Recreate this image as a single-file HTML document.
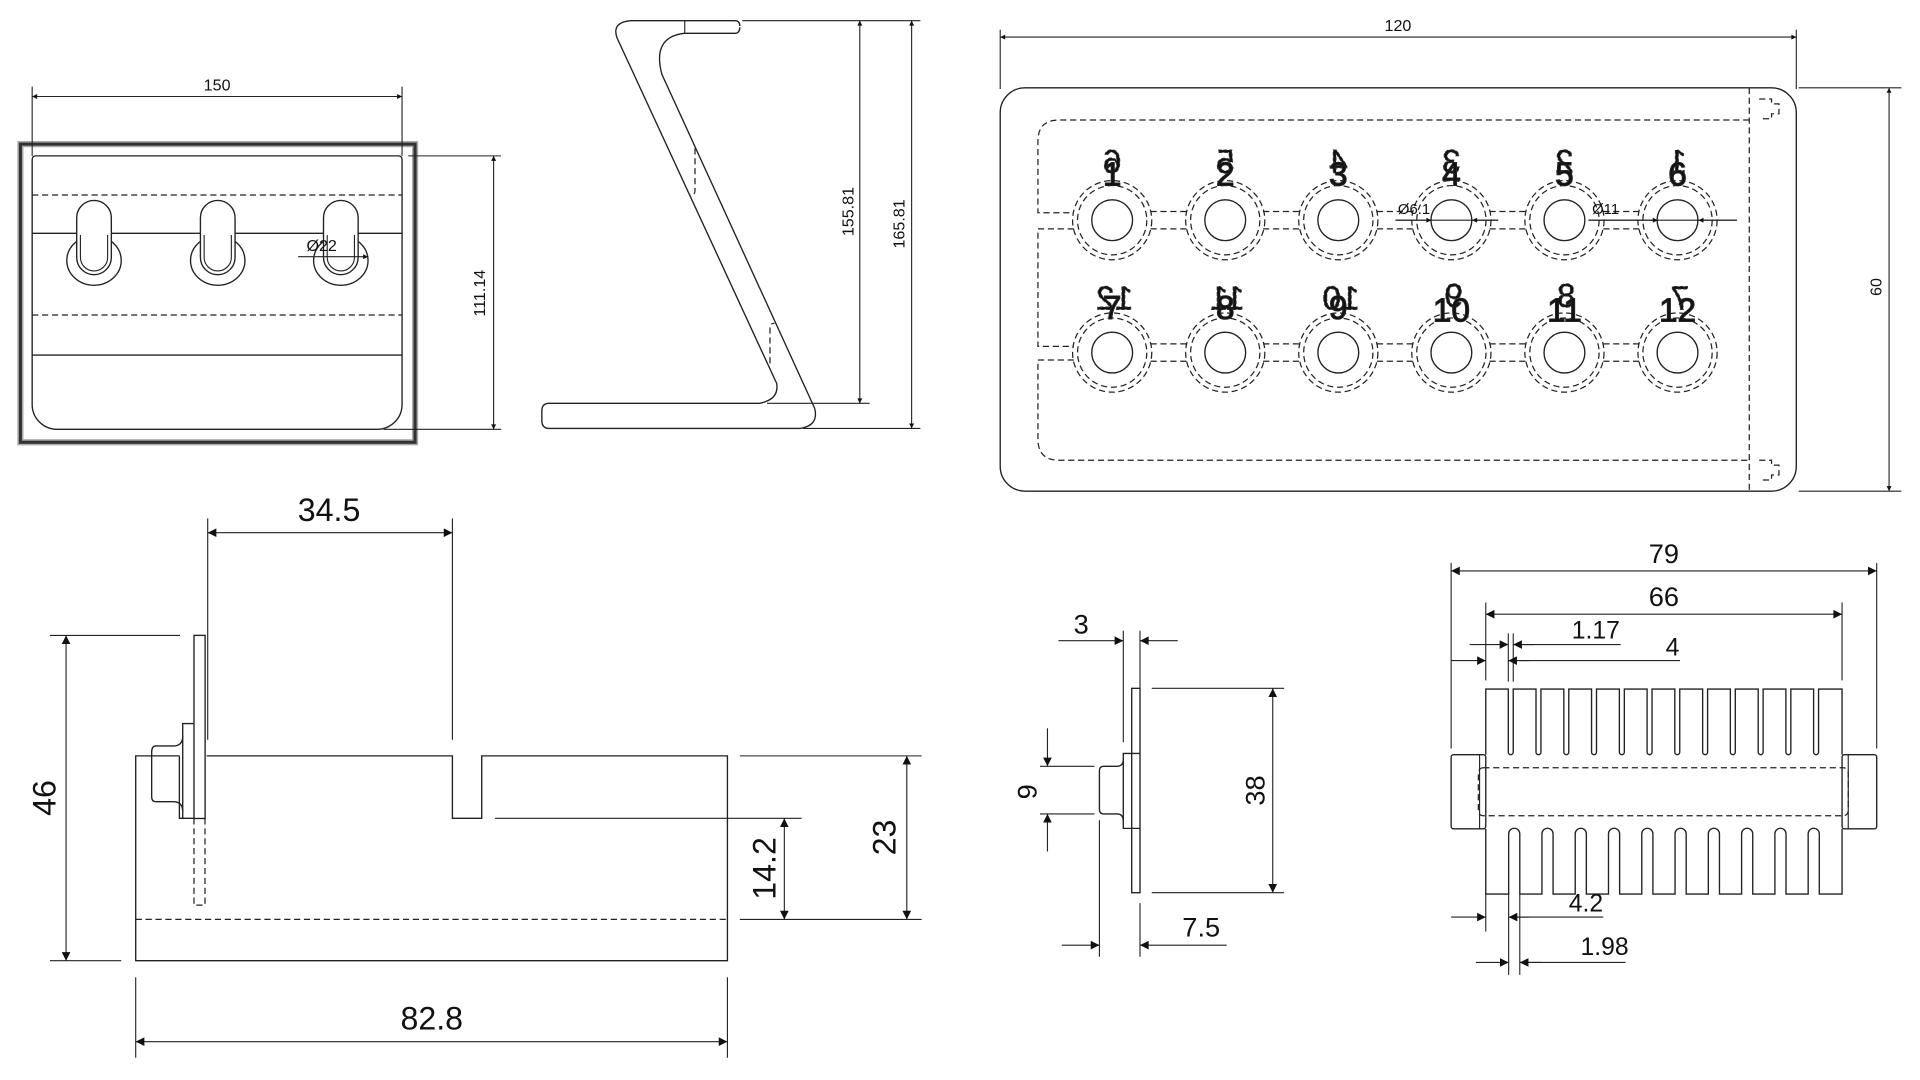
<!DOCTYPE html>
<html><head><meta charset="utf-8"><style>
html,body{margin:0;padding:0;background:#fff;}
svg{display:block;}
text{font-family:"Liberation Sans",sans-serif;fill:#111;}
.l{fill:none;stroke:#222;stroke-width:1.1;}
.d{fill:none;stroke:#222;stroke-width:1;stroke-dasharray:5 3;}
.t{fill:none;stroke:#222;stroke-width:0.9;}
.lab{font-family:"Liberation Sans Narrow","Liberation Sans",sans-serif;font-size:27px;fill:#fff;stroke:#222;stroke-width:0.9;text-anchor:middle;}
.gh{font-family:"Liberation Sans Narrow","Liberation Sans",sans-serif;font-size:27px;fill:none;stroke:#333;stroke-width:0.8;stroke-dasharray:3 1.5;text-anchor:middle;}
</style></head><body>
<svg width="1920" height="1080" viewBox="0 0 1552 873" preserveAspectRatio="none" xmlns="http://www.w3.org/2000/svg">
<defs>
<marker id="A" viewBox="0 0 10 10" refX="10" refY="5" markerUnits="userSpaceOnUse" markerWidth="16" markerHeight="7" orient="auto-start-reverse"><path d="M0,0 L10,5 L0,10z" fill="#111"/></marker>
<marker id="s" viewBox="0 0 10 10" refX="10" refY="5" markerUnits="userSpaceOnUse" markerWidth="9" markerHeight="4" orient="auto-start-reverse"><path d="M0,0 L10,5 L0,10z" fill="#111"/></marker>
</defs>

<!-- ============ PANEL 1 ============ -->
<rect x="16.5" y="116.5" width="319" height="241" fill="none" stroke="#aaa" stroke-width="5"/>
<rect x="16.5" y="116.5" width="319" height="241" fill="none" stroke="#333" stroke-width="2.5"/>
<line class="t" x1="26" y1="70" x2="26" y2="126"/>
<line class="t" x1="325" y1="70" x2="325" y2="126"/>
<line class="t" x1="26" y1="78" x2="325" y2="78" marker-start="url(#s)" marker-end="url(#s)"/>
<text x="175.5" y="73" font-size="13" text-anchor="middle">150</text>
<path class="l" d="M26,129 Q26,126 29,126 H322 Q325,126 325,129 V327 A20,20 0 0 1 305,347 H46 A20,20 0 0 1 26,327 Z"/>
<line class="d" x1="26" y1="157.6" x2="325" y2="157.6"/>
<line class="l" x1="26" y1="188.6" x2="325" y2="188.6"/>
<line class="d" x1="26" y1="254.6" x2="325" y2="254.6"/>
<line class="l" x1="26" y1="287" x2="325" y2="287"/>
<g>
<ellipse class="l" cx="76" cy="210.6" rx="22" ry="20"/>
<rect x="62" y="162" width="28" height="60" rx="14" fill="#fff" stroke="#222" stroke-width="1.1"/>
<path class="t" d="M65,190 V208 A11,11 0 0 0 87,208 V190"/>
<ellipse class="l" cx="176" cy="210.6" rx="22" ry="20"/>
<rect x="162" y="162" width="28" height="60" rx="14" fill="#fff" stroke="#222" stroke-width="1.1"/>
<path class="t" d="M165,190 V208 A11,11 0 0 0 187,208 V190"/>
<ellipse class="l" cx="275.5" cy="210.6" rx="22" ry="20"/>
<rect x="261.5" y="162" width="28" height="60" rx="14" fill="#fff" stroke="#222" stroke-width="1.1"/>
<path class="t" d="M264.5,190 V208 A11,11 0 0 0 286.5,208 V190"/>
</g>
<line class="t" x1="241" y1="207.5" x2="297.5" y2="207.5" marker-end="url(#s)"/>
<text x="260" y="203" font-size="13" text-anchor="middle">Ø22</text>
<line class="t" x1="330" y1="126" x2="405" y2="126"/>
<line class="t" x1="310" y1="347" x2="405" y2="347"/>
<line class="t" x1="399" y1="126" x2="399" y2="347" marker-start="url(#s)" marker-end="url(#s)"/>
<text transform="translate(392,237) rotate(-90)" font-size="13" text-anchor="middle">111.14</text>

<!-- ============ PANEL 2 (Z profile) ============ -->
<path class="l" d="M598,21 Q598,16.7 594,16.7 H510 Q494,18 498.9,30.9 L627.8,309.9 Q630,323 614,326 H444 Q438,326 438,332 V340 Q438,346.3 444,346.3 H646.8 Q662,344 658.5,330 L535,60 Q527,30 553,26.9 H594 Q598,26.9 598,22"/>
<line class="t" x1="553.5" y1="16.7" x2="553.5" y2="26.9"/>
<path class="d" d="M561.8,119.9 V154 Q561.8,158 558,157.6"/>
<path class="d" d="M622.4,293.7 V265 Q622.4,261 626,261.4"/>
<line class="t" x1="600" y1="16.7" x2="744" y2="16.7"/>
<line class="t" x1="620" y1="326" x2="703" y2="326"/>
<line class="t" x1="649" y1="346.3" x2="744" y2="346.3"/>
<line class="t" x1="695" y1="16.7" x2="695" y2="326" marker-start="url(#s)" marker-end="url(#s)"/>
<line class="t" x1="736.9" y1="16.7" x2="736.9" y2="346.3" marker-start="url(#s)" marker-end="url(#s)"/>
<text transform="translate(690,171) rotate(-90)" font-size="13" text-anchor="middle">155.81</text>
<text transform="translate(731,181) rotate(-90)" font-size="13" text-anchor="middle">165.81</text>

<!-- ============ PANEL 3 (tray) ============ -->
<g transform="translate(-8,0)">
<line class="t" x1="816.5" y1="24" x2="816.5" y2="72"/>
<line class="t" x1="1460" y1="24" x2="1460" y2="72"/>
<line class="t" x1="816.5" y1="30" x2="1460" y2="30" marker-start="url(#s)" marker-end="url(#s)"/>
<text x="1138" y="25" font-size="13" text-anchor="middle">120</text>
<rect class="l" x="816.5" y="71" width="643.5" height="326" rx="20"/>
<line class="d" x1="1422" y1="71" x2="1422" y2="397"/>
<path class="d" d="M1430,80 h10 v4 h6 v8 h-6 v4 h-10"/>
<path class="d" d="M1430,372 h10 v4 h6 v8 h-6 v4 h-10"/>
<line class="t" x1="1462" y1="71" x2="1545" y2="71"/>
<line class="t" x1="1462" y1="397" x2="1545" y2="397"/>
<line class="t" x1="1535" y1="71" x2="1535" y2="397" marker-start="url(#s)" marker-end="url(#s)"/>
<text transform="translate(1529,232) rotate(-90)" font-size="13" text-anchor="middle">60</text>
<path class="d" d="M1422,97 H864 Q847,97 847,114 V172 H876"/>
<path class="d" d="M876,185 H847 V280 H876"/>
<path class="d" d="M876,291 H847 V355 Q847,372 864,372 H1422"/>
<g>
<g class="d">
<circle cx="907" cy="178" r="32"/><circle cx="907" cy="178" r="28"/>
<circle cx="998.4" cy="178" r="32"/><circle cx="998.4" cy="178" r="28"/>
<circle cx="1089.8" cy="178" r="32"/><circle cx="1089.8" cy="178" r="28"/>
<circle cx="1181.2" cy="178" r="32"/><circle cx="1181.2" cy="178" r="28"/>
<circle cx="1272.6" cy="178" r="32"/><circle cx="1272.6" cy="178" r="28"/>
<circle cx="1364" cy="178" r="32"/><circle cx="1364" cy="178" r="28"/>
<path d="M938,171 H967 M938,185 H967 M1029,171 H1059 M1029,185 H1059 M1121,171 H1150 M1121,185 H1150 M1212,171 H1242 M1212,185 H1242 M1304,171 H1333 M1304,185 H1333"/>
</g>
<g class="l">
<circle cx="907" cy="178" r="16.5"/><circle cx="998.4" cy="178" r="16.5"/><circle cx="1089.8" cy="178" r="16.5"/>
<circle cx="1181.2" cy="178" r="16.5"/><circle cx="1272.6" cy="178" r="16.5"/><circle cx="1364" cy="178" r="16.5"/>
</g>
<g class="gh">
<text transform="translate(907,140) scale(-1,1)">6</text>
<text transform="translate(998.4,140) scale(-1,1)">5</text>
<text transform="translate(1089.8,140) scale(-1,1)">4</text>
<text transform="translate(1181.2,140) scale(-1,1)">3</text>
<text transform="translate(1272.6,140) scale(-1,1)">2</text>
<text transform="translate(1364,140) scale(-1,1)">1</text>
</g>
<g class="lab">
<text x="907" y="150">1</text><text x="998.4" y="150">2</text><text x="1089.8" y="150">3</text>
<text x="1181.2" y="150">4</text><text x="1272.6" y="150">5</text><text x="1364" y="150">6</text>
</g>
</g>
<g>
<g class="d">
<circle cx="907" cy="285" r="32"/><circle cx="907" cy="285" r="28"/>
<circle cx="998.4" cy="285" r="32"/><circle cx="998.4" cy="285" r="28"/>
<circle cx="1089.8" cy="285" r="32"/><circle cx="1089.8" cy="285" r="28"/>
<circle cx="1181.2" cy="285" r="32"/><circle cx="1181.2" cy="285" r="28"/>
<circle cx="1272.6" cy="285" r="32"/><circle cx="1272.6" cy="285" r="28"/>
<circle cx="1364" cy="285" r="32"/><circle cx="1364" cy="285" r="28"/>
<path d="M938,278 H967 M938,292 H967 M1029,278 H1059 M1029,292 H1059 M1121,278 H1150 M1121,292 H1150 M1212,278 H1242 M1212,292 H1242 M1304,278 H1333 M1304,292 H1333"/>
</g>
<g class="l">
<circle cx="907" cy="285" r="16.5"/><circle cx="998.4" cy="285" r="16.5"/><circle cx="1089.8" cy="285" r="16.5"/>
<circle cx="1181.2" cy="285" r="16.5"/><circle cx="1272.6" cy="285" r="16.5"/><circle cx="1364" cy="285" r="16.5"/>
</g>
<g class="gh">
<text transform="translate(909,250) scale(-1,1)">12</text>
<text transform="translate(1000,250) scale(-1,1)">11</text>
<text transform="translate(1092,250) scale(-1,1)">10</text>
<text transform="translate(1183,248) scale(-1,1)">9</text>
<text transform="translate(1274,248) scale(-1,1)">8</text>
<text transform="translate(1366,250) scale(-1,1)">7</text>
</g>
<g class="lab">
<text x="907" y="258">7</text><text x="998.4" y="258">8</text><text x="1089.8" y="258">9</text>
<text x="1181.2" y="260">10</text><text x="1272.6" y="260">11</text><text x="1364" y="260">12</text>
</g>
</g>
<line class="t" x1="1136" y1="178" x2="1219" y2="178"/>
<line class="t" x1="1136" y1="178" x2="1165" y2="178" marker-end="url(#s)"/>
<line class="t" x1="1219" y1="178" x2="1198" y2="178" marker-end="url(#s)"/>
<text x="1138" y="173" font-size="12">Ø6.1</text>
<line class="t" x1="1292" y1="178" x2="1412" y2="178"/>
<line class="t" x1="1292" y1="178" x2="1348" y2="178" marker-end="url(#s)"/>
<line class="t" x1="1412" y1="178" x2="1381" y2="178" marker-end="url(#s)"/>
<text x="1295" y="173" font-size="12">Ø11</text>
</g>

<!-- ============ PANEL 4 ============ -->
<line class="t" x1="167.9" y1="419" x2="167.9" y2="598"/>
<line class="t" x1="365.7" y1="419" x2="365.7" y2="598"/>
<line class="t" x1="167.9" y1="430.6" x2="365.7" y2="430.6" marker-start="url(#A)" marker-end="url(#A)"/>
<text x="266" y="421" font-size="26" text-anchor="middle">34.5</text>
<path class="l" d="M167,611 H365.7 V661.5 H389.4 V611 H588 V776.6 H109.7 V611 H145"/>
<line class="d" x1="109.7" y1="743.2" x2="588" y2="743.2"/>
<rect class="l" x="156.8" y="513.6" width="9" height="148"/>
<path class="l" d="M156.8,584.9 H147.7 V661.5 H156.8 M145,611 V661.5 H147.7"/>
<path class="l" d="M147.7,595 Q147.7,603 140,603 H126 Q122.6,603 122.6,608 V644 Q122.6,648 126,648 H140 Q147.7,648 147.7,656"/>
<path class="d" d="M156.8,661.5 V731.6 H165.7 V661.5"/>
<line class="t" x1="40.4" y1="513.6" x2="145.5" y2="513.6"/>
<line class="t" x1="40.4" y1="776.6" x2="98" y2="776.6"/>
<line class="t" x1="53.4" y1="513.6" x2="53.4" y2="776.6" marker-start="url(#A)" marker-end="url(#A)"/>
<text transform="translate(45,645) rotate(-90)" font-size="26" text-anchor="middle">46</text>
<line class="t" x1="109.7" y1="790" x2="109.7" y2="855"/>
<line class="t" x1="588" y1="790" x2="588" y2="855"/>
<line class="t" x1="109.7" y1="842" x2="588" y2="842" marker-start="url(#A)" marker-end="url(#A)"/>
<text x="349" y="832" font-size="26" text-anchor="middle">82.8</text>
<line class="t" x1="400" y1="661.5" x2="648" y2="661.5"/>
<line class="t" x1="598" y1="611" x2="745" y2="611"/>
<line class="t" x1="598" y1="743.2" x2="745" y2="743.2"/>
<line class="t" x1="634" y1="661.5" x2="634" y2="743.2" marker-start="url(#A)" marker-end="url(#A)"/>
<line class="t" x1="733" y1="611" x2="733" y2="743.2" marker-start="url(#A)" marker-end="url(#A)"/>
<text transform="translate(627,702) rotate(-90)" font-size="26" text-anchor="middle">14.2</text>
<text transform="translate(724,677) rotate(-90)" font-size="26" text-anchor="middle">23</text>

<!-- ============ PANEL 5 ============ -->
<rect class="l" x="914.8" y="556.4" width="6.7" height="165.2"/>
<path class="l" d="M921.5,609 H908 V669.6 H921.5"/>
<path class="l" d="M908,614 Q908,619.4 903,619.4 H892 Q888.7,619.4 888.7,623 V654 Q888.7,657.9 892,657.9 H903 Q908,657.9 908,664"/>
<line class="t" x1="908" y1="509.8" x2="908" y2="600"/>
<line class="t" x1="921.5" y1="509.8" x2="921.5" y2="556"/>
<line class="t" x1="855.6" y1="517.9" x2="908" y2="517.9" marker-end="url(#A)"/>
<line class="t" x1="952" y1="517.9" x2="921.5" y2="517.9" marker-end="url(#A)"/>
<text x="874" y="512" font-size="22" text-anchor="middle">3</text>
<line class="t" x1="931" y1="556.4" x2="1038" y2="556.4"/>
<line class="t" x1="931" y1="721.6" x2="1038" y2="721.6"/>
<line class="t" x1="1028.8" y1="556.4" x2="1028.8" y2="721.6" marker-start="url(#A)" marker-end="url(#A)"/>
<text transform="translate(1022,639) rotate(-90)" font-size="22" text-anchor="middle">38</text>
<line class="t" x1="840.7" y1="619.4" x2="884.7" y2="619.4"/>
<line class="t" x1="840.7" y1="657.9" x2="884.7" y2="657.9"/>
<line class="t" x1="846.7" y1="588.7" x2="846.7" y2="619.4" marker-end="url(#A)"/>
<line class="t" x1="846.7" y1="688.3" x2="846.7" y2="657.9" marker-end="url(#A)"/>
<text transform="translate(838,640) rotate(-90)" font-size="22" text-anchor="middle">9</text>
<line class="t" x1="888.7" y1="663" x2="888.7" y2="773.4"/>
<line class="t" x1="921.5" y1="730" x2="921.5" y2="773.4"/>
<line class="t" x1="858.3" y1="764" x2="888.7" y2="764" marker-end="url(#A)"/>
<line class="t" x1="991.6" y1="764" x2="921.5" y2="764" marker-end="url(#A)"/>
<text x="971" y="757" font-size="22" text-anchor="middle">7.5</text>

<!-- ============ PANEL 6 (comb) ============ -->
<path class="l" d="M1201,610 V557 H1219.2 V608 a2,2 0 0 0 4,0 V557 H1241.6 V608 a2,2 0 0 0 4,0 V557 H1264.1 V608 a2,2 0 0 0 4,0 V557 H1286.5 V608 a2,2 0 0 0 4,0 V557 H1309 V608 a2,2 0 0 0 4,0 V557 H1331.4 V608 a2,2 0 0 0 4,0 V557 H1353.8 V608 a2,2 0 0 0 4,0 V557 H1376.3 V608 a2,2 0 0 0 4,0 V557 H1398.7 V608 a2,2 0 0 0 4,0 V557 H1421.2 V608 a2,2 0 0 0 4,0 V557 H1443.6 V608 a2,2 0 0 0 4,0 V557 H1466 V608 a2,2 0 0 0 4,0 V557 H1489 V610"/>
<path class="l" d="M1201,670 V722.7 H1219.5 V674 a4.5,4.5 0 0 1 9,0 V722.7 H1246.4 V674 a4.5,4.5 0 0 1 9,0 V722.7 H1273.3 V674 a4.5,4.5 0 0 1 9,0 V722.7 H1300.2 V674 a4.5,4.5 0 0 1 9,0 V722.7 H1327.1 V674 a4.5,4.5 0 0 1 9,0 V722.7 H1354 V674 a4.5,4.5 0 0 1 9,0 V722.7 H1380.9 V674 a4.5,4.5 0 0 1 9,0 V722.7 H1407.8 V674 a4.5,4.5 0 0 1 9,0 V722.7 H1434.7 V674 a4.5,4.5 0 0 1 9,0 V722.7 H1461.6 V674 a4.5,4.5 0 0 1 9,0 V722.7 H1489 V670"/>
<rect class="l" x="1173" y="610" width="28" height="60" rx="2"/>
<rect class="l" x="1489" y="610" width="28" height="60" rx="2"/>
<line class="t" x1="1196" y1="610" x2="1196" y2="670"/>
<line class="t" x1="1494" y1="610" x2="1494" y2="670"/>
<rect class="d" x="1195" y="620.6" width="299" height="38.8" rx="4"/>
<line class="t" x1="1173" y1="455" x2="1173" y2="605"/>
<line class="t" x1="1517" y1="455" x2="1517" y2="605"/>
<line class="t" x1="1173" y1="461.5" x2="1517" y2="461.5" marker-start="url(#A)" marker-end="url(#A)"/>
<text x="1345" y="455" font-size="22" text-anchor="middle">79</text>
<line class="t" x1="1201" y1="487" x2="1201" y2="550"/>
<line class="t" x1="1489" y1="487" x2="1489" y2="550"/>
<line class="t" x1="1201" y1="496.5" x2="1489" y2="496.5" marker-start="url(#A)" marker-end="url(#A)"/>
<text x="1345" y="490" font-size="22" text-anchor="middle">66</text>
<line class="t" x1="1219.2" y1="512" x2="1219.2" y2="551"/>
<line class="t" x1="1223.2" y1="512" x2="1223.2" y2="551"/>
<line class="t" x1="1188" y1="521" x2="1219.2" y2="521" marker-end="url(#A)"/>
<line class="t" x1="1310" y1="521" x2="1223.2" y2="521"/>
<line class="t" x1="1240" y1="521" x2="1223.2" y2="521" marker-end="url(#A)"/>
<text x="1290" y="516" font-size="20" text-anchor="middle">1.17</text>
<line class="t" x1="1173" y1="534" x2="1201" y2="534" marker-end="url(#A)"/>
<line class="t" x1="1358" y1="534" x2="1219.2" y2="534"/>
<line class="t" x1="1236" y1="534" x2="1219.2" y2="534" marker-end="url(#A)"/>
<text x="1352" y="530" font-size="20" text-anchor="middle">4</text>
<line class="t" x1="1201" y1="722.7" x2="1201" y2="753"/>
<line class="t" x1="1219.5" y1="722.7" x2="1219.5" y2="788"/>
<line class="t" x1="1228.5" y1="722.7" x2="1228.5" y2="788"/>
<line class="t" x1="1173" y1="741.3" x2="1201" y2="741.3" marker-end="url(#A)"/>
<line class="t" x1="1296" y1="741.3" x2="1219.5" y2="741.3"/>
<line class="t" x1="1236" y1="741.3" x2="1219.5" y2="741.3" marker-end="url(#A)"/>
<text x="1282" y="737" font-size="20" text-anchor="middle">4.2</text>
<line class="t" x1="1193" y1="778" x2="1219.5" y2="778" marker-end="url(#A)"/>
<line class="t" x1="1314" y1="778" x2="1228.5" y2="778"/>
<line class="t" x1="1246" y1="778" x2="1228.5" y2="778" marker-end="url(#A)"/>
<text x="1297" y="772" font-size="20" text-anchor="middle">1.98</text>
</svg>
</body></html>
